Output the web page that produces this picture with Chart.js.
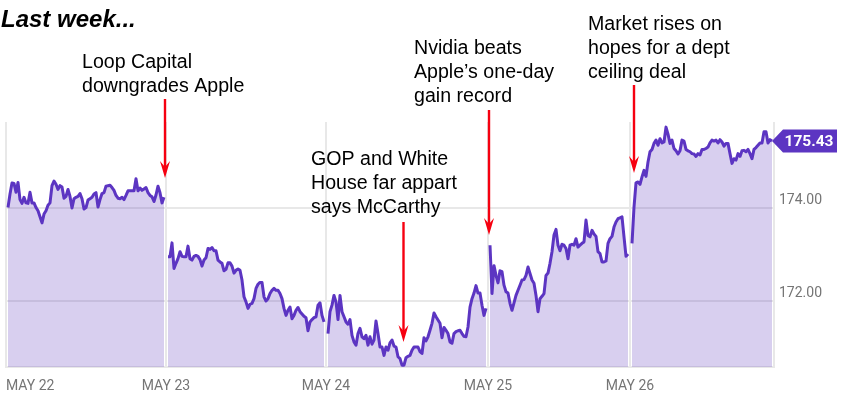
<!DOCTYPE html>
<html>
<head>
<meta charset="utf-8">
<style>
  body { margin: 0; background: #fff; }
  canvas { display: block; }
</style>
<script src="https://cdn.jsdelivr.net/npm/chart.js@4/dist/chart.umd.min.js"></script>
</head>
<body>
<canvas id="chart" width="842" height="400"></canvas>
<script>
const dayLabels = ['MAY 22', 'MAY 23', 'MAY 24', 'MAY 25', 'MAY 26'];
const priceTicks = [172, 174];
const lastPrice = 175.43;

const may22 = [
  174.00, 174.29, 174.53, 174.52, 174.33, 174.54, 174.17, 174.09, 174.22, 174.10,
  174.09, 174.33, 174.10, 174.10, 174.00, 173.93, 173.80, 173.67, 173.86, 173.93,
  174.05, 174.10, 174.47, 174.57, 174.50, 174.39, 174.47, 174.44, 174.20, 174.24,
  174.39, 174.24, 173.99, 174.19, 174.22, 174.24, 174.30, 174.19, 173.97, 174.00,
  174.16, 174.19, 174.22, 174.29, 174.32, 174.01, 174.17, 174.30, 174.32, 174.46,
  174.47, 174.48, 174.43, 174.37, 174.26, 174.20, 174.19, 174.22, 174.17, 174.26,
  174.36, 174.36, 174.36, 174.36, 174.62, 174.36, 174.42, 174.37, 174.40, 174.43,
  174.32, 174.26, 174.23, 174.13, 174.27, 174.46, 174.32, 174.10, 174.22,
];
const may23 = [
  172.94, 172.94, 173.24, 172.69, 172.80, 172.90, 173.05, 172.95, 172.94, 172.94,
  173.17, 172.90, 172.87, 172.95, 172.97, 172.95, 172.88, 172.74, 172.87, 172.92,
  173.12, 173.10, 173.14, 173.07, 173.07, 172.87, 172.83, 172.80, 172.64, 172.67,
  172.81, 172.81, 172.74, 172.59, 172.65, 172.68, 172.65, 172.44, 172.08, 171.97,
  171.83, 171.92, 171.94, 172.04, 172.26, 172.35, 172.39, 172.39, 172.08, 171.99,
  172.04, 172.15, 172.22, 172.26, 172.22, 172.22, 172.15, 172.04, 171.83, 171.68,
  171.79, 171.86, 171.61, 171.68, 171.79, 171.85, 171.76, 171.71, 171.66, 171.63,
  171.35, 171.54, 171.59, 171.63, 171.65, 171.90, 171.95, 171.68, 171.54,
];
const may24 = [
  171.29, 171.76, 171.90, 172.11, 171.97, 171.59, 172.11, 171.76, 171.65, 171.54,
  171.49, 171.59, 171.25, 171.11, 171.04, 171.29, 171.40, 171.22, 171.18, 171.25,
  171.04, 171.22, 171.06, 171.15, 171.56, 171.29, 171.00, 171.00, 170.82, 171.00,
  170.93, 171.09, 171.15, 171.02, 171.00, 170.79, 170.75, 170.61, 170.61, 170.77,
  170.80, 170.82, 170.93, 171.00, 171.00, 171.00, 170.90, 170.86, 171.20, 171.13,
  171.22, 171.36, 171.51, 171.73, 171.65, 171.58, 171.51, 171.20, 171.42, 171.36,
  171.29, 171.11, 171.08, 171.29, 171.33, 171.35, 171.36, 171.29, 171.23, 171.22,
  171.43, 171.86, 172.04, 172.16, 172.32, 172.16, 172.16, 171.90, 171.68, 171.83,
];
const may25 = [
  173.19, 172.15, 172.75, 172.54, 172.38, 172.64, 172.62, 172.33, 172.19, 172.16,
  171.94, 171.79, 171.95, 172.11, 172.22, 172.33, 172.44, 172.45, 172.54, 172.72,
  172.58, 172.44, 172.37, 172.11, 171.76, 172.04, 172.09, 172.15, 172.54, 172.59,
  172.80, 173.05, 173.41, 173.53, 173.19, 173.07, 173.21, 173.19, 173.12, 172.90,
  173.19, 173.21, 173.19, 173.33, 173.15, 173.19, 173.23, 173.26, 173.73, 173.40,
  173.37, 173.51, 173.43, 173.38, 173.05, 173.01, 172.83, 172.83, 172.85, 173.23,
  173.33, 173.38, 173.58, 173.69, 173.76, 173.78, 173.80, 173.37, 172.95, 173.00,
];
const may26 = [
  173.23, 174.01, 174.53, 174.55, 174.50, 174.66, 174.80, 174.67, 174.98, 175.20,
  175.25, 175.38, 175.45, 175.34, 175.48, 175.39, 175.41, 175.73, 175.58, 175.38,
  175.45, 175.27, 175.22, 175.15, 175.22, 175.45, 175.43, 175.25, 175.22, 175.20,
  175.16, 175.15, 175.10, 175.16, 175.13, 175.25, 175.25, 175.27, 175.30, 175.39,
  175.45, 175.43, 175.45, 175.39, 175.46, 175.41, 175.32, 175.38, 175.38, 175.16,
  174.95, 175.05, 175.02, 175.16, 175.10, 175.22, 175.23, 175.20, 175.25, 175.16,
  175.05, 175.25, 175.29, 175.34, 175.39, 175.39, 175.63, 175.63, 175.39, 175.46,
  175.43,
];

const title = 'Last week...';
const noteLoop = ['Loop Capital', 'downgrades Apple'];
const noteGop = ['GOP and White', 'House far appart', 'says McCarthy'];
const noteNvidia = ['Nvidia beats', 'Apple\u2019s one-day', 'gain record'];
const noteMarket = ['Market rises on', 'hopes for a dept', 'ceiling deal'];

// one empty slot in front of each day leaves the gap where the day line sits
const days = [may22, may23, may24, may25, may26];
const prices = [];
const slots = [];
const dayStarts = [];
days.forEach((day, i) => {
  dayStarts.push(prices.length);
  slots.push(dayLabels[i]);
  prices.push(null);
  day.forEach(v => { slots.push(''); prices.push(v); });
});
const endSlot = prices.length;
slots.push('');
prices.push(null);

const PURPLE = '#5c35c2';
const GRID = '#e8e8e8';

function drawArrow(ctx, x, top, tip) {
  ctx.strokeStyle = '#f60010';
  ctx.fillStyle = '#f60010';
  ctx.lineWidth = 2.4;
  ctx.beginPath();
  ctx.moveTo(x, top);
  ctx.lineTo(x, tip - 8);
  ctx.stroke();
  ctx.beginPath();
  ctx.moveTo(x, tip);
  ctx.lineTo(x - 5, tip - 17);
  ctx.lineTo(x, tip - 11);
  ctx.lineTo(x + 5, tip - 17);
  ctx.closePath();
  ctx.fill();
}

function drawNote(ctx, lines, x, y) {
  lines.forEach((line, i) => ctx.fillText(line, x, y + i * 24));
}

const overlay = {
  id: 'overlay',
  afterDraw(chart) {
    const ctx = chart.ctx;
    const yScale = chart.scales.y;
    ctx.save();
    ctx.textBaseline = 'alphabetic';
    ctx.textAlign = 'left';
    ctx.fillStyle = '#000';
    ctx.font = 'italic bold 24px "Liberation Sans"';
    ctx.fillText(title, 1, 27);
    ctx.font = '19.6px "Liberation Sans"';
    drawNote(ctx, noteLoop, 82, 68);
    drawNote(ctx, noteGop, 311, 165);
    drawNote(ctx, noteNvidia, 414, 54);
    drawNote(ctx, noteMarket, 588, 30);

    drawArrow(ctx, 165, 99, 178);
    drawArrow(ctx, 403.5, 222, 342);
    drawArrow(ctx, 489, 110, 235);
    drawArrow(ctx, 634, 85, 173);

    // price tag at the last close
    const py = yScale.getPixelForValue(lastPrice);
    ctx.fillStyle = PURPLE;
    ctx.beginPath();
    ctx.moveTo(772, py);
    ctx.lineTo(783, py - 11.5);
    ctx.lineTo(837, py - 11.5);
    ctx.lineTo(837, py + 11.5);
    ctx.lineTo(783, py + 11.5);
    ctx.closePath();
    ctx.fill();
    ctx.fillStyle = '#fff';
    ctx.font = 'bold 15.5px Roboto';
    ctx.textAlign = 'center';
    ctx.textBaseline = 'middle';
    ctx.fillText(lastPrice.toFixed(2), 809, py + 1);
    ctx.restore();
  },
};

new Chart(document.getElementById('chart'), {
  type: 'line',
  data: {
    labels: slots,
    datasets: [{
      data: prices,
      borderColor: PURPLE,
      borderWidth: 3,
      backgroundColor: 'rgba(94, 53, 190, 0.24)',
      fill: 'start',
      pointRadius: 0,
      tension: 0,
      spanGaps: false,
      borderJoinStyle: 'round',
    }],
  },
  options: {
    responsive: false,
    animation: false,
    layout: { padding: { left: 6, top: 122 } },
    plugins: { legend: { display: false }, tooltip: { enabled: false } },
    scales: {
      x: {
        afterBuildTicks: axis => { axis.ticks = [...dayStarts, endSlot].map(value => ({ value })); },
        afterFit: axis => { axis.height = 33; axis.paddingLeft = 0; axis.paddingRight = 0; },
        grid: { color: GRID, lineWidth: 2, drawTicks: false },
        border: { color: GRID, width: 2 },
        ticks: {
          autoSkip: false,
          maxRotation: 0,
          align: 'inner',
          padding: 11,
          color: '#757575',
          font: { family: 'Roboto', size: 14 },
        },
      },
      y: {
        position: 'right',
        min: 170.57,
        max: 175.84,
        afterBuildTicks: axis => { axis.ticks = priceTicks.map(value => ({ value })); },
        afterFit: axis => { axis.width = 68; },
        grid: { color: GRID, lineWidth: 2, drawTicks: false },
        border: { display: false },
        ticks: {
          padding: 5,
          labelOffset: -7,
          color: '#757575',
          font: { family: 'Roboto', size: 14 },
          callback: v => v.toFixed(2),
        },
      },
    },
  },
  plugins: [overlay],
});
</script>
</body>
</html>
